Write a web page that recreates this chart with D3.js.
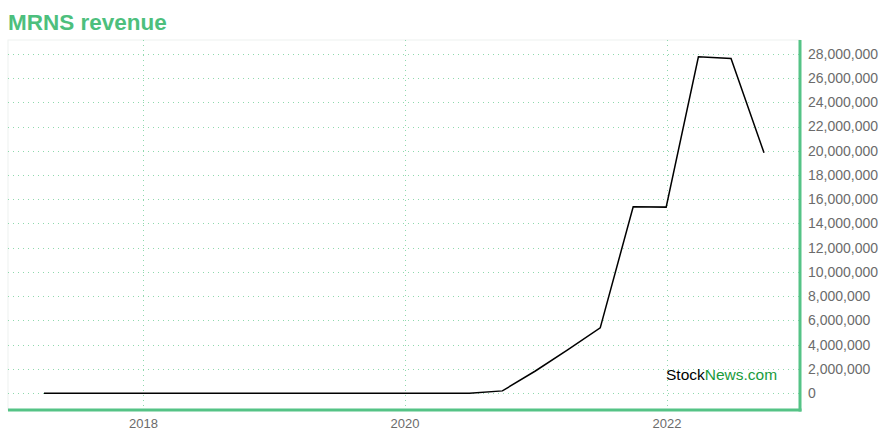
<!DOCTYPE html>
<html><head><meta charset="utf-8">
<script src="https://cdn.jsdelivr.net/npm/d3@7"></script>
<style>body{margin:0;background:#fff;font-family:"Liberation Sans",Arial,sans-serif}</style>
</head><body><svg id="c" width="880" height="440"></svg>
<script>
const dates = ["2017-03-31","2017-06-30","2017-09-30","2017-12-31","2018-03-31","2018-06-30","2018-09-30","2018-12-31","2019-03-31","2019-06-30","2019-09-30","2019-12-31","2020-03-31","2020-06-30","2020-09-30","2020-12-31","2021-03-31","2021-06-30","2021-09-30","2021-12-31","2022-03-31","2022-06-30","2022-09-30"];
const revenue = [0,0,0,0,0,0,0,0,0,0,0,0,0,0,190000,1830000,3580000,5390000,15380000,15350000,27750000,27620000,19840000];
const yTicks = [0,2000000,4000000,6000000,8000000,10000000,12000000,14000000,16000000,18000000,20000000,22000000,24000000,26000000,28000000];
const xTicks = ["2018-01-01","2020-01-01","2022-01-01"];
const title = "MRNS revenue";

const parse = d3.timeParse("%Y-%m-%d");
const data = dates.map((d,i)=>({t:parse(d), v:revenue[i]}));
const svg = d3.select("#c");
const L=8, R=800, T=40, B=410;
const green = "#55c386";

const tExt = d3.extent(data,d=>d.t);
const tPad = (tExt[1]-tExt[0])*0.05;
const x = d3.scaleTime().domain([new Date(+tExt[0]-tPad), new Date(+tExt[1]+tPad)]).range([L,R]);
const vMax = d3.max(revenue), vPad = vMax*0.05;
const y = d3.scaleLinear().domain([-vPad, vMax+vPad]).range([B,T]);

// frame
svg.append("rect").attr("x",L).attr("y",T).attr("width",R-L).attr("height",B-T)
  .attr("fill","none").attr("stroke","#eef2f0").attr("stroke-width",1);

// grid
svg.append("g").selectAll("line").data(yTicks).join("line")
  .attr("x1",L).attr("x2",R).attr("y1",d=>Math.round(y(d))+0.5).attr("y2",d=>Math.round(y(d))+0.5)
  .attr("stroke","#8fd9ad").attr("stroke-dasharray","1,4").attr("stroke-width",1);
svg.append("g").selectAll("line").data(xTicks.map(parse)).join("line")
  .attr("x1",d=>Math.round(x(d))+0.5).attr("x2",d=>Math.round(x(d))+0.5).attr("y1",T).attr("y2",B)
  .attr("stroke","#8fd9ad").attr("stroke-dasharray","1,4").attr("stroke-width",1);

// line
svg.append("path").datum(data)
  .attr("d", d3.line().x(d=>x(d.t)).y(d=>y(d.v)))
  .attr("fill","none").attr("stroke","#000").attr("stroke-width",1.5);

// axes
const yAxis = d3.axisRight(y).tickValues(yTicks).tickSize(0).tickPadding(8).tickFormat(d3.format(","));
const gy = svg.append("g").attr("transform",`translate(${R},0)`).call(yAxis);
gy.select(".domain").remove();
gy.selectAll("text").attr("fill","#6b6b6b").style("font-size","14px").style("font-family","Liberation Sans, Arial, sans-serif");

const xAxis = d3.axisBottom(x).tickValues(xTicks.map(parse)).tickSize(0).tickPadding(9).tickFormat(d3.timeFormat("%Y"));
const gx = svg.append("g").attr("transform",`translate(0,${B})`).call(xAxis);
gx.select(".domain").remove();
gx.selectAll("text").attr("fill","#6b6b6b").style("font-size","13px").style("font-family","Liberation Sans, Arial, sans-serif");

svg.append("line").attr("x1",R).attr("x2",R).attr("y1",T).attr("y2",B+1.5).attr("stroke",green).attr("stroke-width",3);
svg.append("line").attr("x1",L).attr("x2",R+1.5).attr("y1",B).attr("y2",B).attr("stroke",green).attr("stroke-width",3);

// title
svg.append("text").attr("x",8).attr("y",30).text(title)
  .attr("fill","#4dbf7d").style("font-size","22.5px").style("font-weight","bold").style("font-family","Liberation Sans, Arial, sans-serif");

// watermark
const wm = svg.append("text").attr("x",666).attr("y",380).style("font-size","15.5px").style("font-family","Liberation Sans, Arial, sans-serif");
wm.append("tspan").attr("fill","#000").text("Stock");
wm.append("tspan").attr("fill","#1a9a3c").text("News.com");
</script></body></html>
